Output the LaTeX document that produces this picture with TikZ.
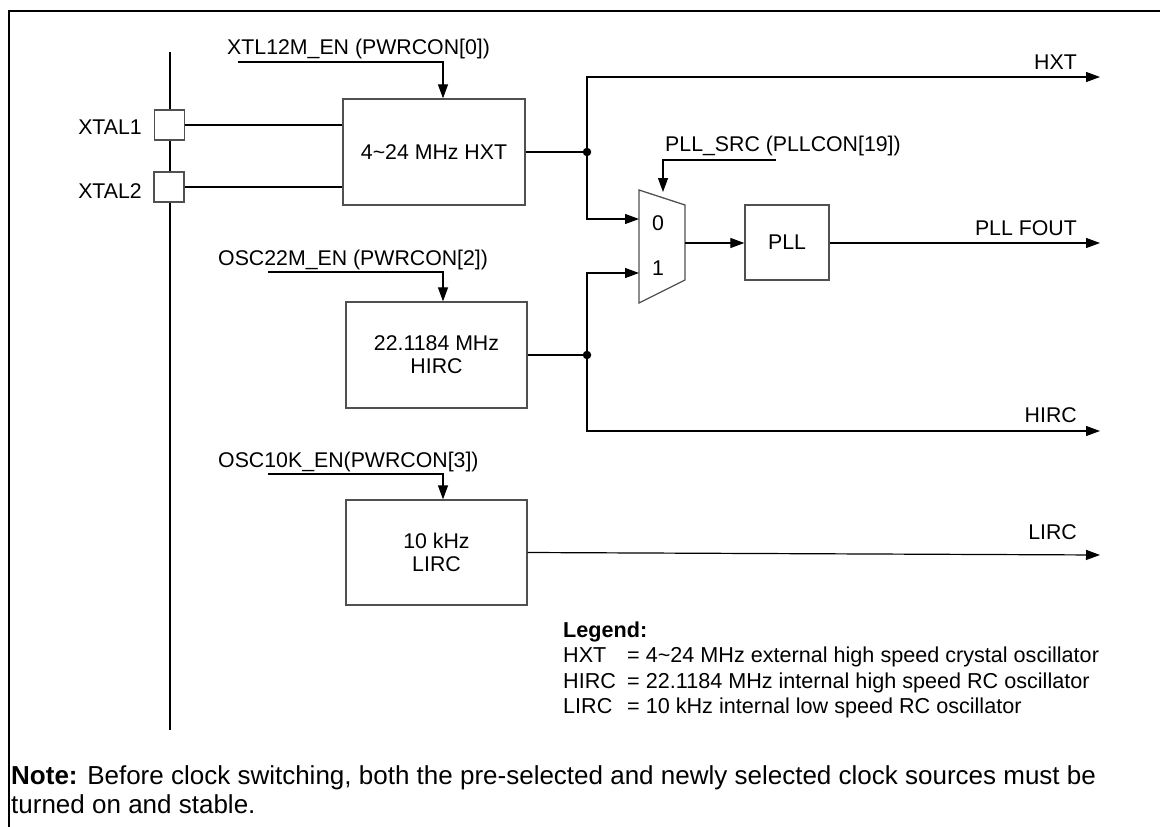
\documentclass[tikz,border=0pt]{standalone}
\usepackage{fontspec}
\setmainfont{Liberation Sans}
\usetikzlibrary{arrows.meta}
\definecolor{boxgray}{RGB}{80,80,80}
\begin{document}
\begin{tikzpicture}[x=1pt,y=-1pt,
  lbl/.style={font=\fontsize{21.3}{23}\selectfont, inner sep=0pt},
  leglbl/.style={font=\fontsize{21.6}{23}\selectfont, inner sep=0pt},
  blk/.style={draw=boxgray, line width=1.3pt, fill=white, inner sep=0pt, align=center, font=\fontsize{21.3}{23}\selectfont},
  wire/.style={line width=1.2pt},
  arr/.style={wire, -{Triangle[length=14pt,width=10pt]}},
  dotc/.style={circle, fill, inner sep=0pt, minimum size=8.5pt},
  notefont/.style={font=\fontsize{26}{29}\selectfont, inner sep=0pt}]
\useasboundingbox (0,0) rectangle (1160,827);
% frame
\draw[line width=2.5pt] (9,827) -- (9,11) -- (1160,11);
% bus
\coordinate (bt) at (170,52);
\coordinate (bb) at (170,730);
\draw[line width=1.5pt] (bt) -- (bb);
% crystal pins
\node[blk, minimum width=30pt, minimum height=30pt] (x1) at (169.5,125) {};
\node[blk, minimum width=30pt, minimum height=30pt] (x2) at (169,187) {};
\node[lbl, anchor=base east] (x1l) at (142,134) {XTAL1};
\node[lbl, anchor=base east] (x2l) at (142,198) {XTAL2};
% HXT
\node[blk, minimum width=182pt, minimum height=106pt] (hxt) at (434,152) {4\textasciitilde 24 MHz HXT};
\draw[wire] (x1) -- (hxt.west |- x1);
\draw[wire] (x2) -- (hxt.west |- x2);
\node[lbl, anchor=base west] (x12) at (227,54) {XTL12M\_EN (PWRCON[0])};
\coordinate (x12a) at (238,62);
\coordinate (x12b) at (443,62);
\draw[arr] (x12a) -- (x12b) -- (x12b |- hxt.north);
% junction HXT
\coordinate (d1) at (587,152);
\draw[wire] (hxt.east) -- (d1);
\node[dotc] (d1n) at (d1) {};
\coordinate (hxto) at (1100,77);
\draw[arr] (d1) |- (hxto);
\node[lbl, anchor=base east] (lhxt) at (1077,69) {HXT};
% mux
\draw[draw=boxgray, line width=1.3pt] (639,190) -- (685,205) -- (685,280) -- (639,303) -- cycle;
\node[lbl] (mux0) at (658,223) {0};
\node[lbl] (mux1) at (658,268) {1};
\coordinate (m0) at (639,219);
\coordinate (m1) at (639,273);
\coordinate (mo) at (685,243);
\coordinate (ms) at (663,192);
\draw[arr] (d1) |- (m0);
\node[lbl, anchor=base west] (psrc) at (665,151) {PLL\_SRC (PLLCON[19])};
\coordinate (ps1) at (776,160);
\draw[arr] (ps1) -| (ms);
% PLL
\node[blk, minimum width=84pt, minimum height=75pt] (pll) at (787,242.5) {PLL};
\draw[arr] (mo) -- (pll.west |- mo);
\coordinate (pllo) at (1100,243);
\draw[arr] (pll.east |- pllo) -- (pllo);
\node[lbl, anchor=base east] (lpll) at (1077,235) {PLL FOUT};
% HIRC
\node[blk, minimum width=181pt, minimum height=106pt] (hirc) at (436.5,355) {22.1184 MHz\\HIRC};
\node[lbl, anchor=base west] (o22) at (218,265) {OSC22M\_EN (PWRCON[2])};
\coordinate (o22a) at (268,272);
\coordinate (o22b) at (443,272);
\draw[arr] (o22a) -- (o22b) -- (o22b |- hirc.north);
\coordinate (d2) at (587,355);
\draw[wire] (hirc.east) -- (d2);
\node[dotc] (d2n) at (d2) {};
\draw[arr] (d2) |- (m1);
\coordinate (hirco) at (1100,431);
\draw[arr] (d2) |- (hirco);
\node[lbl, anchor=base east] (lhirc) at (1077,422) {HIRC};
% LIRC
\node[blk, minimum width=181pt, minimum height=105pt] (lirc) at (436.5,552.5) {10 kHz\\LIRC};
\node[lbl, anchor=base west] (o10) at (218,467.5) {OSC10K\_EN(PWRCON[3])};
\coordinate (o10a) at (268,474);
\coordinate (o10b) at (443,474);
\draw[arr] (o10a) -- (o10b) -- (o10b |- lirc.north);
\coordinate (lirco) at (1100,555);
\draw[arr] (lirc.east) -- (lirco);
\node[lbl, anchor=base east] (llirc) at (1077,539) {LIRC};
% legend
\node[leglbl, anchor=base west, font=\fontsize{21.6}{23}\selectfont\bfseries] (leg) at (563,637) {Legend:};
\node[leglbl, anchor=base west] (lg1a) at (563,662) {HXT};
\node[leglbl, anchor=base west] (lg1b) at (627,662) {= 4\textasciitilde 24 MHz external high speed crystal oscillator};
\node[leglbl, anchor=base west] (lg2a) at (563,688) {HIRC};
\node[leglbl, anchor=base west] (lg2b) at (627,688) {= 22.1184 MHz internal high speed RC oscillator};
\node[leglbl, anchor=base west] (lg3a) at (563,713) {LIRC};
\node[leglbl, anchor=base west] (lg3b) at (627,713) {= 10 kHz internal low speed RC oscillator};
% note
\node[notefont, anchor=base west] (note1) at (11,784) {\textbf{Note:} Before clock switching, both the pre-selected and newly selected clock sources must be};
\node[notefont, anchor=base west] (note2) at (11,813) {turned on and stable.};
\end{tikzpicture}
\end{document}
